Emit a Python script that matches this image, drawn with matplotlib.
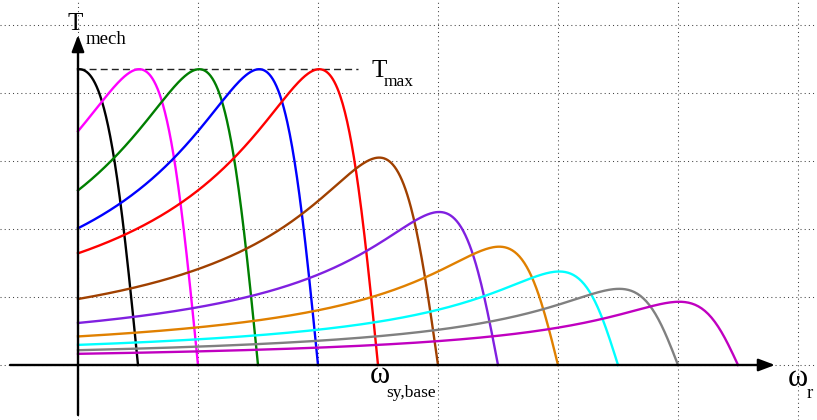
import numpy as np
import matplotlib
matplotlib.use("Agg")
import matplotlib.pyplot as plt

# synchronous speeds (zero-torque points), in grid units
sync_speed = [0.5, 1.0, 1.5, 2.0, 2.5, 3.0, 3.5, 4.0, 4.5, 5.0, 5.5]
# breakdown (peak) torque of each curve, in grid units
peak_torque = [4.35, 4.35, 4.35, 4.35, 4.35, 3.05, 2.25, 1.74, 1.375, 1.12, 0.93]
# slip speed at breakdown torque
slip_break = 0.49
colors = ['#000000', '#ff00ff', '#008000', '#0000ff', '#ff0000', '#a04000',
          '#8020e0', '#e08000', '#00ffff', '#808080', '#c000c0']
t_max = 4.35
base_speed = 2.5

W, H = 817, 420
ox, oy = 78, 365      # origin in pixels
gx, gy = 120, 68      # one grid cell in pixels

fig = plt.figure(figsize=(W / 100, H / 100), dpi=100)
ax = fig.add_axes([0, 0, 1, 1])
ax.set_xlim(-ox / gx, (W - ox) / gx)
ax.set_ylim(-(H - oy) / gy, oy / gy)
for s in ax.spines.values():
    s.set_visible(False)
ax.set_xticks(range(0, 7))
ax.set_yticks(range(0, 6))
ax.tick_params(length=0, labelbottom=False, labelleft=False)
ax.grid(True, color='#444444', lw=0.75, ls=(0, (1, 3)))
ax.set_axisbelow(True)

# torque-speed curves (Kloss form)
for ws, tk, c in zip(sync_speed, peak_torque, colors):
    w = np.linspace(0, ws, 400)
    d = ws - w
    safe = np.where(d > 0, d, 1)
    t = np.where(d > 0, 2 * tk / (safe / slip_break + slip_break / safe), 0.0)
    ax.plot(w, t, color=c, lw=1.7, zorder=3)

# T_max dashed line
ax.plot([0, 2.33], [t_max, t_max], color='#222222', lw=1.0, ls=(0, (5, 3)), zorder=2)

# axes with arrows
arrow = dict(arrowstyle='-|>,head_length=0.45,head_width=0.17', lw=1.7,
             color='k', mutation_scale=22, shrinkA=0, shrinkB=0)
ax.annotate('', xy=((775 - ox) / gx, 0), xytext=((10 - ox) / gx, 0),
            arrowprops=arrow, zorder=4)
ax.annotate('', xy=(0, (oy - 35) / gy), xytext=(0, (oy - 415) / gy),
            arrowprops=arrow, zorder=4)

serif = 'Liberation Serif'


def label(px, py, s, size):
    fig.text(px / W, 1 - py / H, s, fontsize=size, family=serif,
             ha='left', va='baseline')


label(68, 30, 'T', 18)
label(86, 44, 'mech', 13.5)
label(371, 77, 'T', 18)
label(384, 86, 'max', 12.5)
label(370, 383, 'ω', 22)
label(386, 397, 'sy,base', 12.5)
label(788, 386, 'ω', 22)
label(807, 398, 'r', 13.5)

fig.savefig('out.png', dpi=100)
